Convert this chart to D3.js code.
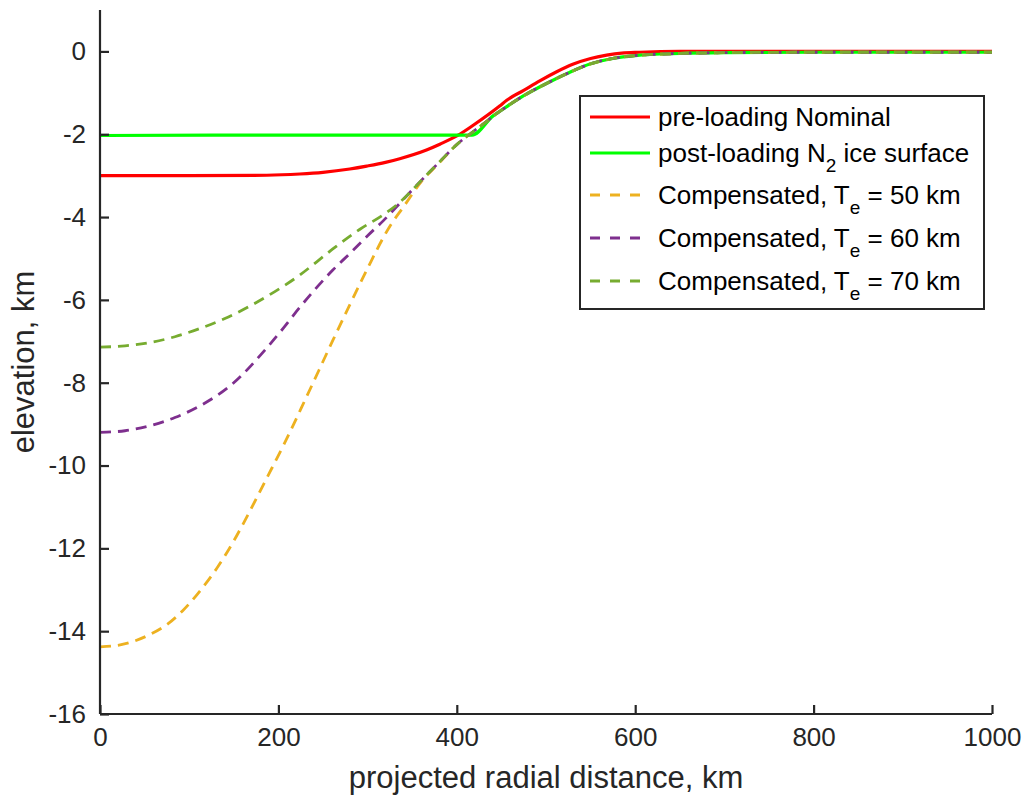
<!DOCTYPE html>
<html><head><meta charset="utf-8">
<script src="https://cdn.jsdelivr.net/npm/d3@7"></script>
<style>
html,body{margin:0;padding:0;background:#fff;}
text{font-family:"Liberation Sans",Arial,Helvetica,sans-serif;fill:#262626;}
</style></head>
<body>
<svg id="chart" width="1027" height="797"></svg>
<script>
// ---- data (x: projected radial distance km, y: elevation km) ----
const xTicks = [0, 200, 400, 600, 800, 1000];
const yTicks = [0, -2, -4, -6, -8, -10, -12, -14, -16];

const preLoadingX = [0, 100, 187, 224, 250, 280, 299, 320, 336, 366, 381, 401, 418, 448, 456, 475, 493, 512, 530, 550, 568, 585, 605, 650, 1000];
const preLoadingY = [-3.0, -3.0, -2.99, -2.96, -2.92, -2.84, -2.77, -2.68, -2.59, -2.38, -2.24, -2.03, -1.79, -1.32, -1.18, -0.94, -0.71, -0.49, -0.31, -0.17, -0.09, -0.04, -0.02, 0, 0];

const postLoadingX = [0, 200, 417, 441, 450, 475, 500, 525, 550, 575, 600, 650, 700, 800, 1000];
const postLoadingY = [-2.03, -2.02, -2.02, -1.55, -1.42, -1.07, -0.78, -0.52, -0.3, -0.17, -0.1, -0.05, -0.03, -0.02, -0.02];

const te50X = [0, 25, 56, 75, 93, 112, 131, 150, 168, 187, 206, 232, 261, 280, 299, 325, 340, 360, 380, 400, 425, 450, 475, 500, 525, 550, 575, 600, 650, 700, 800, 1000];
const te50Y = [-14.38, -14.32, -14.08, -13.84, -13.5, -13.03, -12.48, -11.82, -11.1, -10.3, -9.5, -8.32, -6.98, -6.12, -5.28, -4.22, -3.76, -3.15, -2.7, -2.25, -1.83, -1.42, -1.07, -0.78, -0.52, -0.3, -0.17, -0.1, -0.05, -0.03, -0.02, -0.02];

const te60X = [0, 28, 56, 84, 112, 149, 187, 206, 224, 261, 280, 300, 318, 333, 345, 360, 380, 400, 425, 450, 475, 500, 525, 550, 575, 600, 650, 700, 800, 1000];
const te60Y = [-9.2, -9.16, -9.04, -8.84, -8.56, -8.02, -7.16, -6.67, -6.18, -5.28, -4.88, -4.45, -4.08, -3.74, -3.46, -3.12, -2.68, -2.25, -1.83, -1.42, -1.07, -0.78, -0.52, -0.3, -0.17, -0.1, -0.05, -0.03, -0.02, -0.02];

const te70X = [0, 28, 56, 84, 112, 140, 168, 196, 224, 243, 261, 291, 318, 333, 345, 360, 380, 400, 425, 450, 475, 500, 525, 550, 575, 600, 650, 700, 800, 1000];
const te70Y = [-7.14, -7.11, -7.03, -6.89, -6.69, -6.45, -6.15, -5.8, -5.4, -5.08, -4.77, -4.3, -3.94, -3.7, -3.46, -3.12, -2.68, -2.25, -1.83, -1.42, -1.07, -0.78, -0.52, -0.3, -0.17, -0.1, -0.05, -0.03, -0.02, -0.02];

const seriesNames = ["pre-loading Nominal", "post-loading N2 ice surface", "Compensated, Te = 50 km", "Compensated, Te = 60 km", "Compensated, Te = 70 km"];

// ---- build ----
const zip = (xv, yv) => xv.map((v, i) => ({x: v, y: yv[i]}));
const series = [
  {name: seriesNames[0], pts: zip(preLoadingX, preLoadingY), color: "#ff0000", dash: null, w: 3.2},
  {name: seriesNames[1], pts: zip(postLoadingX, postLoadingY), color: "#00ff00", dash: null, w: 3.2},
  {name: seriesNames[2], pts: zip(te50X, te50Y), color: "#EDB120", dash: "11,7", w: 2.8},
  {name: seriesNames[3], pts: zip(te60X, te60Y), color: "#7E2F8E", dash: "11,7", w: 2.8},
  {name: seriesNames[4], pts: zip(te70X, te70Y), color: "#77AC30", dash: "11,7", w: 2.8}
];

const svg = d3.select("#chart");
const mLeft = 100, mRight = 992, mTop = 10, mBottom = 714;
const xs = d3.scaleLinear().domain([0, 1000]).range([mLeft, mRight]);
const ys = d3.scaleLinear().domain([-16, 1]).range([mBottom, mTop]);

const line = d3.line().x(d => xs(d.x)).y(d => ys(d.y)).curve(d3.curveMonotoneX);

const plot = svg.append("g");
series.forEach(s => {
  plot.append("path").datum(s.pts)
    .attr("d", line)
    .attr("fill", "none")
    .attr("stroke", s.color)
    .attr("stroke-width", s.w)
    .attr("stroke-dasharray", s.dash)
    .attr("stroke-linejoin", "round");
});

// axes
const fmt = d => String(d);
const xAxis = d3.axisBottom(xs).tickValues(xTicks).tickSize(-9).tickPadding(14).tickFormat(fmt);
const yAxis = d3.axisLeft(ys).tickValues(yTicks).tickSize(-9).tickPadding(14).tickFormat(fmt);

const gx = svg.append("g").attr("transform", `translate(0,${mBottom})`).call(xAxis);
const gy = svg.append("g").attr("transform", `translate(${mLeft},0)`).call(yAxis);
[gx, gy].forEach(g => {
  g.select(".domain").attr("stroke", "#262626").attr("stroke-width", 2.2);
  g.selectAll(".tick line").attr("stroke", "#262626").attr("stroke-width", 2.2);
  g.selectAll(".tick text").attr("font-size", 26).attr("fill", "#262626")
    .style("font-family", '"Liberation Sans",Arial,sans-serif');
});
gx.select(".domain").attr("d", `M${mLeft},0H${mRight}`);
gy.select(".domain").attr("d", `M0,${mTop}V${mBottom}`);

// axis labels
svg.append("text").attr("x", (mLeft + mRight) / 2).attr("y", 788)
  .attr("text-anchor", "middle").attr("font-size", 31).text("projected radial distance, km");
svg.append("text").attr("transform", `translate(34,${(mTop + mBottom) / 2}) rotate(-90)`)
  .attr("text-anchor", "middle").attr("font-size", 31).text("elevation, km");

// legend
const lg = svg.append("g");
lg.append("rect").attr("x", 580).attr("y", 96).attr("width", 404).attr("height", 213)
  .attr("fill", "#fff").attr("stroke", "#262626").attr("stroke-width", 2);
const rowY = [117, 153, 195, 238, 281];
const labelParts = [
  [["pre-loading Nominal", false]],
  [["post-loading N", false], ["2", true], [" ice surface", false]],
  [["Compensated, T", false], ["e", true], [" = 50 km", false]],
  [["Compensated, T", false], ["e", true], [" = 60 km", false]],
  [["Compensated, T", false], ["e", true], [" = 70 km", false]]
];
series.forEach((s, i) => {
  lg.append("line").attr("x1", 590).attr("x2", 650).attr("y1", rowY[i]).attr("y2", rowY[i])
    .attr("stroke", s.color).attr("stroke-width", s.w)
    .attr("stroke-dasharray", s.dash ? "10,10" : null);
  const t = lg.append("text").attr("x", 658).attr("y", rowY[i] + 9).attr("font-size", 26).style("fill", "#000");
  labelParts[i].forEach((p, j) => {
    const tsp = t.append("tspan").text(p[0]);
    if (p[1]) tsp.attr("font-size", 19).attr("dy", 10);
    else if (j > 0) tsp.attr("dy", -10);
  });
});
</script>
</body></html>
